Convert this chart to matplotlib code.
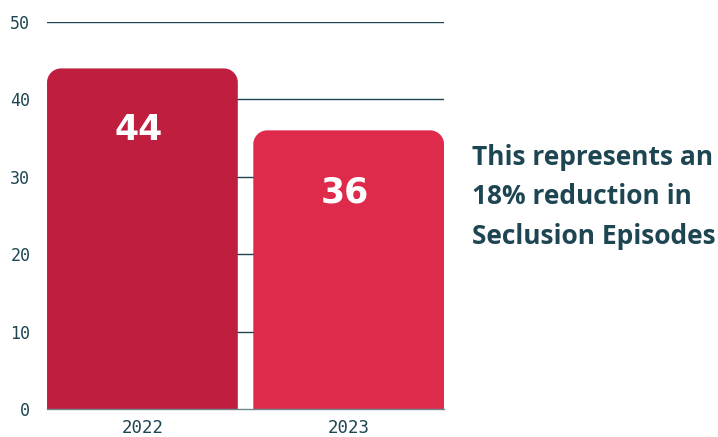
import matplotlib
matplotlib.use("Agg")
import matplotlib.pyplot as plt
from matplotlib.path import Path
from matplotlib.patches import PathPatch
import numpy as np

categories = ["2022", "2023"]
values = [44, 36]
colors = ["#C01E3F", "#DE2A4B"]
yticks = [0, 10, 20, 30, 40, 50]
note = "This represents an\n18% reduction in\nSeclusion Episodes"

TEXT = "#1E4652"

fig = plt.figure(figsize=(7.18, 4.37), dpi=100)
ax = fig.add_axes([0.0655, 0.0641, 0.553, 0.8856])
ax.set_xlim(-0.4625, 1.4625)
ax.set_ylim(0, 50)

x = np.arange(len(categories))
bw = 0.925
bars = ax.bar(x, values, width=bw, color=colors, zorder=2)

for t in yticks[1:]:
    ax.axhline(t, color=TEXT, lw=1.0, zorder=1)

fig.canvas.draw()
px_x = ax.transData.transform((1, 0))[0] - ax.transData.transform((0, 0))[0]
px_y = ax.transData.transform((0, 1))[1] - ax.transData.transform((0, 0))[1]
r = 14
rx, ry = r / px_x, r / px_y

def rounded_top(x0, x1, y0, y1):
    k = 0.5523
    verts = [
        (x0, y0), (x0, y1 - ry),
        (x0, y1 - ry + k * ry), (x0 + rx - k * rx, y1), (x0 + rx, y1),
        (x1 - rx, y1),
        (x1 - rx + k * rx, y1), (x1, y1 - ry + k * ry), (x1, y1 - ry),
        (x1, y0), (x0, y0),
    ]
    codes = [Path.MOVETO, Path.LINETO,
             Path.CURVE4, Path.CURVE4, Path.CURVE4,
             Path.LINETO,
             Path.CURVE4, Path.CURVE4, Path.CURVE4,
             Path.LINETO, Path.CLOSEPOLY]
    return Path(verts, codes)

for b, c in zip(bars, colors):
    x0 = b.get_x()
    x1 = x0 + b.get_width()
    h = b.get_height()
    b.set_visible(False)
    ax.add_patch(PathPatch(rounded_top(x0, x1, 0, h), facecolor=c, edgecolor="none", zorder=2))
    ax.text(x0 + b.get_width() / 2 - 0.02, h - 8, f"{h:g}", ha="center", va="center",
            color="white", fontsize=25, fontweight="bold", family="DejaVu Sans", zorder=3)

for s in ["top", "right", "left"]:
    ax.spines[s].set_visible(False)
ax.spines["bottom"].set_color("#6D8A93")
ax.spines["bottom"].set_linewidth(1.0)
ax.spines["bottom"].set_zorder(4)

ax.set_yticks(yticks)
ax.set_yticklabels([str(t) for t in yticks])
ax.set_xticks(x)
ax.set_xticklabels(categories)
ax.tick_params(axis="both", length=0, colors=TEXT)
ax.tick_params(axis="y", pad=12, labelsize=12)
ax.tick_params(axis="x", pad=7, labelsize=12.5)
for lab in ax.get_xticklabels() + ax.get_yticklabels():
    lab.set_family("DejaVu Sans Mono")
    lab.set_color(TEXT)

fig.text(472 / 718, 1 - 197 / 437, note, ha="left", va="center", color=TEXT,
         fontsize=19, fontweight="bold", family="Open Sans", linespacing=1.6)

fig.savefig("out.png", dpi=100)
